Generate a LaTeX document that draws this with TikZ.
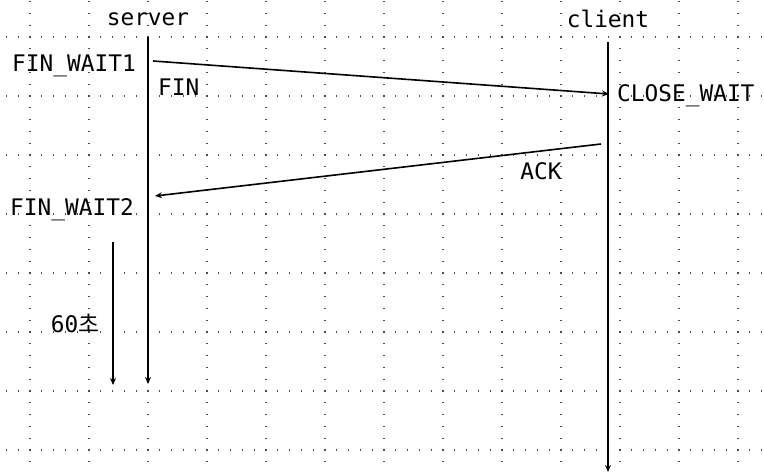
\documentclass[tikz,border=0pt]{standalone}
\usepackage{fontspec}
\setmainfont{DejaVu Sans Mono}
\newfontfamily\krfont{Noto Sans CJK KR}
\usetikzlibrary{arrows.meta}
\begin{document}
\begin{tikzpicture}[x=1pt,y=-1pt,
  gridline/.style={line width=1.2pt,black!70,dash pattern=on 1.2pt off 10.6pt},
  lifeline/.style={line width=2pt,-{Stealth[length=7pt,width=6pt]}},
  msg/.style={line width=1.6pt,-{Stealth[length=7pt,width=6pt]}},
  lbl/.style={font=\fontsize{22.8}{27}\selectfont,inner sep=0pt}]
\useasboundingbox (0,0) rectangle (764,473);
% dotted grid
\foreach \k in {0,...,7}{
  \draw[gridline] (5.8,{37+59*\k}) -- (764,{37+59*\k});
}
\foreach \k in {0,...,12}{
  \draw[gridline] ({30+59*\k},1) -- ({30+59*\k},473);
}
% headers
\node[lbl] (server) at (148,19) {server};
\node[lbl] (client) at (608,19) {client};
% lifelines
\coordinate (s0) at (148,37);
\coordinate (s1) at (148,384);
\coordinate (c0) at (608,42);
\coordinate (c1) at (608,472);
\draw[lifeline] (s0) -- (s1);
\draw[lifeline] (c0) -- (c1);
% FIN
\coordinate (f0) at (153,61);
\coordinate (f1) at (609,94);
\draw[msg] (f0) -- (f1);
\node[lbl,anchor=west] (fin) at (158,87) {FIN};
\node[lbl] (fw1) at (74,66) {FIN\_WAIT1};
\node[lbl,anchor=west] (cw) at (617,96) {CLOSE\_WAIT};
% ACK
\coordinate (a0) at (601,144);
\coordinate (a1) at (155,196);
\draw[msg] (a0) -- (a1);
\node[lbl] (ack) at (541,171) {ACK};
\node[lbl] (fw2) at (72,210) {FIN\_WAIT2};
% 60 s
\coordinate (t0) at (113,242);
\coordinate (t1) at (113,385);
\draw[lifeline] (t0) -- (t1);
\node[lbl] (sec) at (75,323) {60{\krfont 초}};
\end{tikzpicture}
\end{document}
